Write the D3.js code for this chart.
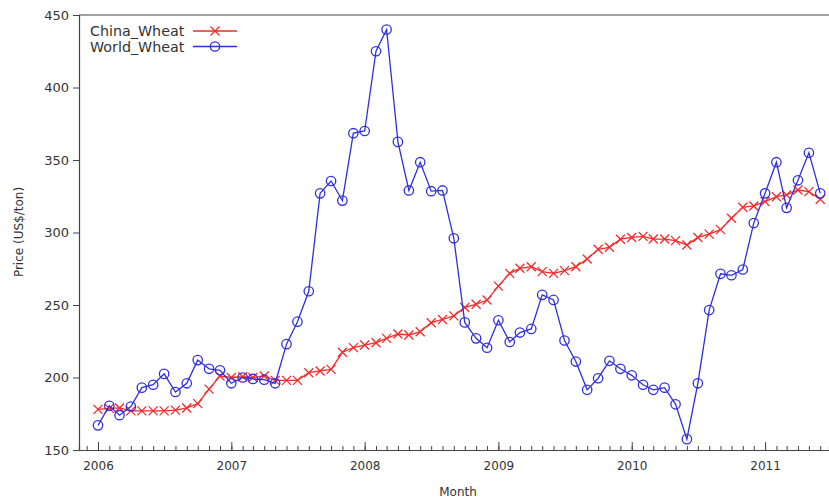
<!DOCTYPE html>
<html><head><meta charset="utf-8">
<script src="https://cdn.jsdelivr.net/npm/d3@7/dist/d3.min.js"></script>
<style>
html,body{margin:0;padding:0;background:#fff;}
svg{display:block;}
</style>
</head><body>
<svg id="chart" width="829" height="502"></svg>
<script>
const months = [];
for (let y = 2006; y <= 2011; y++) for (let m = 1; m <= 12; m++) {
  if (y === 2011 && m > 6) break;
  months.push(y + "-" + String(m).padStart(2, "0"));
}
const seriesNames = ["China_Wheat", "World_Wheat"];
const chinaWheat = [178,178.7,179,177,177,177,177,177.5,179,182,192,201,
  200,200.5,200,201,198,198,198,203.3,204.5,205.6,217.4,220.6,
  222.4,224,227,230,229.3,231.6,237.8,240,242.5,248.3,250.5,253.4,
  263,271.8,275.3,276.4,273,271.8,273.7,276.4,281.7,288.4,289.8,295.4,
  296.6,297.3,295.5,295.5,294.4,291.4,296.6,298.9,302,309.8,317.4,318.3,
  321.3,324.7,325.9,329.3,328.2,322.9];
const worldWheat = [167,180.5,174,180,193,195,202.5,190,196,212,206,205,
  196,200,199,198.5,196,223,238.5,259.5,327,335.5,322,368.5,
  370,425,440,362.5,329,348.5,328.5,329,296,238,227,220.5,
  239.5,224.5,231,233.5,257,253.5,225.5,211,191.5,199.5,211.5,206,
  201.5,195,191.5,193,181.5,157.5,196,246.5,271.5,270.5,274.5,306.5,
  327,348.5,317,336,355,327];
const yTicks = [150,200,250,300,350,400,450];
const xTickYears = ["2006","2007","2008","2009","2010","2011"];
const yLabel = "Price (US$/ton)";
const xLabel = "Month";

const parse = d3.timeParse("%Y-%m");
const dates = months.map(parse);

const svg = d3.select("#chart");
const L = 79, T = 15, B = 450, R = 829;
const x = d3.scaleTime()
  .domain([new Date(2005, 10, 10), new Date(2011, 5, 25)])
  .range([L, R]);
const y = d3.scaleLinear().domain([150, 450]).range([B, T]);

const axisColor = "#444";
const textColor = "#333";
const font = "'DejaVu Sans', Verdana, sans-serif";

// frame
svg.append("line").attr("x1", L).attr("x2", R + 5).attr("y1", T).attr("y2", T)
  .attr("stroke", axisColor).attr("stroke-width", 1.2);

// Y axis
const yAxis = d3.axisLeft(y).tickValues(yTicks).tickSize(6).tickPadding(4);
const gy = svg.append("g").attr("transform", `translate(${L},0)`).call(yAxis);
gy.select(".domain").attr("stroke", axisColor).attr("stroke-width", 1.2);
gy.selectAll(".tick line").attr("stroke", axisColor);
gy.selectAll(".tick text").attr("font-family", font).attr("font-size", 13).attr("fill", textColor);

// X axis minor monthly ticks (inside)
const minor = d3.axisBottom(x).ticks(d3.timeMonth.every(1)).tickSize(-4).tickFormat("");
const gxm = svg.append("g").attr("transform", `translate(0,${B})`).call(minor);
gxm.select(".domain").attr("stroke", axisColor).attr("stroke-width", 1.2);
gxm.selectAll(".tick line").attr("stroke", axisColor);

const major = d3.axisBottom(x)
  .tickValues(xTickYears.map(s => new Date(+s, 0, 1)))
  .tickSize(-8).tickFormat(d3.timeFormat("%Y"));
const gx = svg.append("g").attr("transform", `translate(0,${B})`).call(major);
gx.select(".domain").remove();
gx.selectAll(".tick line").attr("stroke", axisColor);
gx.selectAll(".tick text").attr("font-family", font).attr("font-size", 12)
  .attr("fill", textColor).attr("y", 11);

// axis labels
svg.append("text").attr("x", 458).attr("y", 496).attr("text-anchor", "middle")
  .attr("font-family", font).attr("font-size", 12).attr("fill", textColor).text(xLabel);
svg.append("text").attr("transform", "translate(23,232) rotate(-90)")
  .attr("text-anchor", "middle").attr("font-family", font).attr("font-size", 12)
  .attr("fill", textColor).text(yLabel);

const red = "#f52a2a", blue = "#2f2fe0";
const line = d3.line().x((d, i) => x(dates[i])).y(d => y(d));

const plot = svg.append("g");
// China
plot.append("path").datum(chinaWheat).attr("d", line)
  .attr("fill", "none").attr("stroke", red).attr("stroke-width", 1.3);
function cross(g, cx, cy, s) {
  g.append("path").attr("d", `M${cx - s},${cy - s}L${cx + s},${cy + s}M${cx - s},${cy + s}L${cx + s},${cy - s}`)
    .attr("stroke", red).attr("stroke-width", 1.3).attr("fill", "none");
}
chinaWheat.forEach((v, i) => cross(plot, x(dates[i]), y(v), 4.5));
// World
plot.append("path").datum(worldWheat).attr("d", line)
  .attr("fill", "none").attr("stroke", blue).attr("stroke-width", 1.3);
worldWheat.forEach((v, i) => plot.append("circle").attr("cx", x(dates[i])).attr("cy", y(v))
  .attr("r", 4.7).attr("fill", "none").attr("stroke", blue).attr("stroke-width", 1.3));

// legend
const lg = svg.append("g");
const legendRows = [{name: seriesNames[0], color: red, mark: "x", yy: 31},
                    {name: seriesNames[1], color: blue, mark: "o", yy: 46.5}];
legendRows.forEach(r => {
  lg.append("text").attr("x", 90).attr("y", r.yy + 5).attr("font-family", font)
    .attr("font-size", 14.3).attr("fill", textColor).text(r.name);
  lg.append("line").attr("x1", 193).attr("x2", 237).attr("y1", r.yy).attr("y2", r.yy)
    .attr("stroke", r.color).attr("stroke-width", 1.3);
  if (r.mark === "x") cross(lg, 215, r.yy, 4.5);
  else lg.append("circle").attr("cx", 215).attr("cy", r.yy).attr("r", 4.7)
    .attr("fill", "none").attr("stroke", r.color).attr("stroke-width", 1.3);
});
</script>
</body></html>
